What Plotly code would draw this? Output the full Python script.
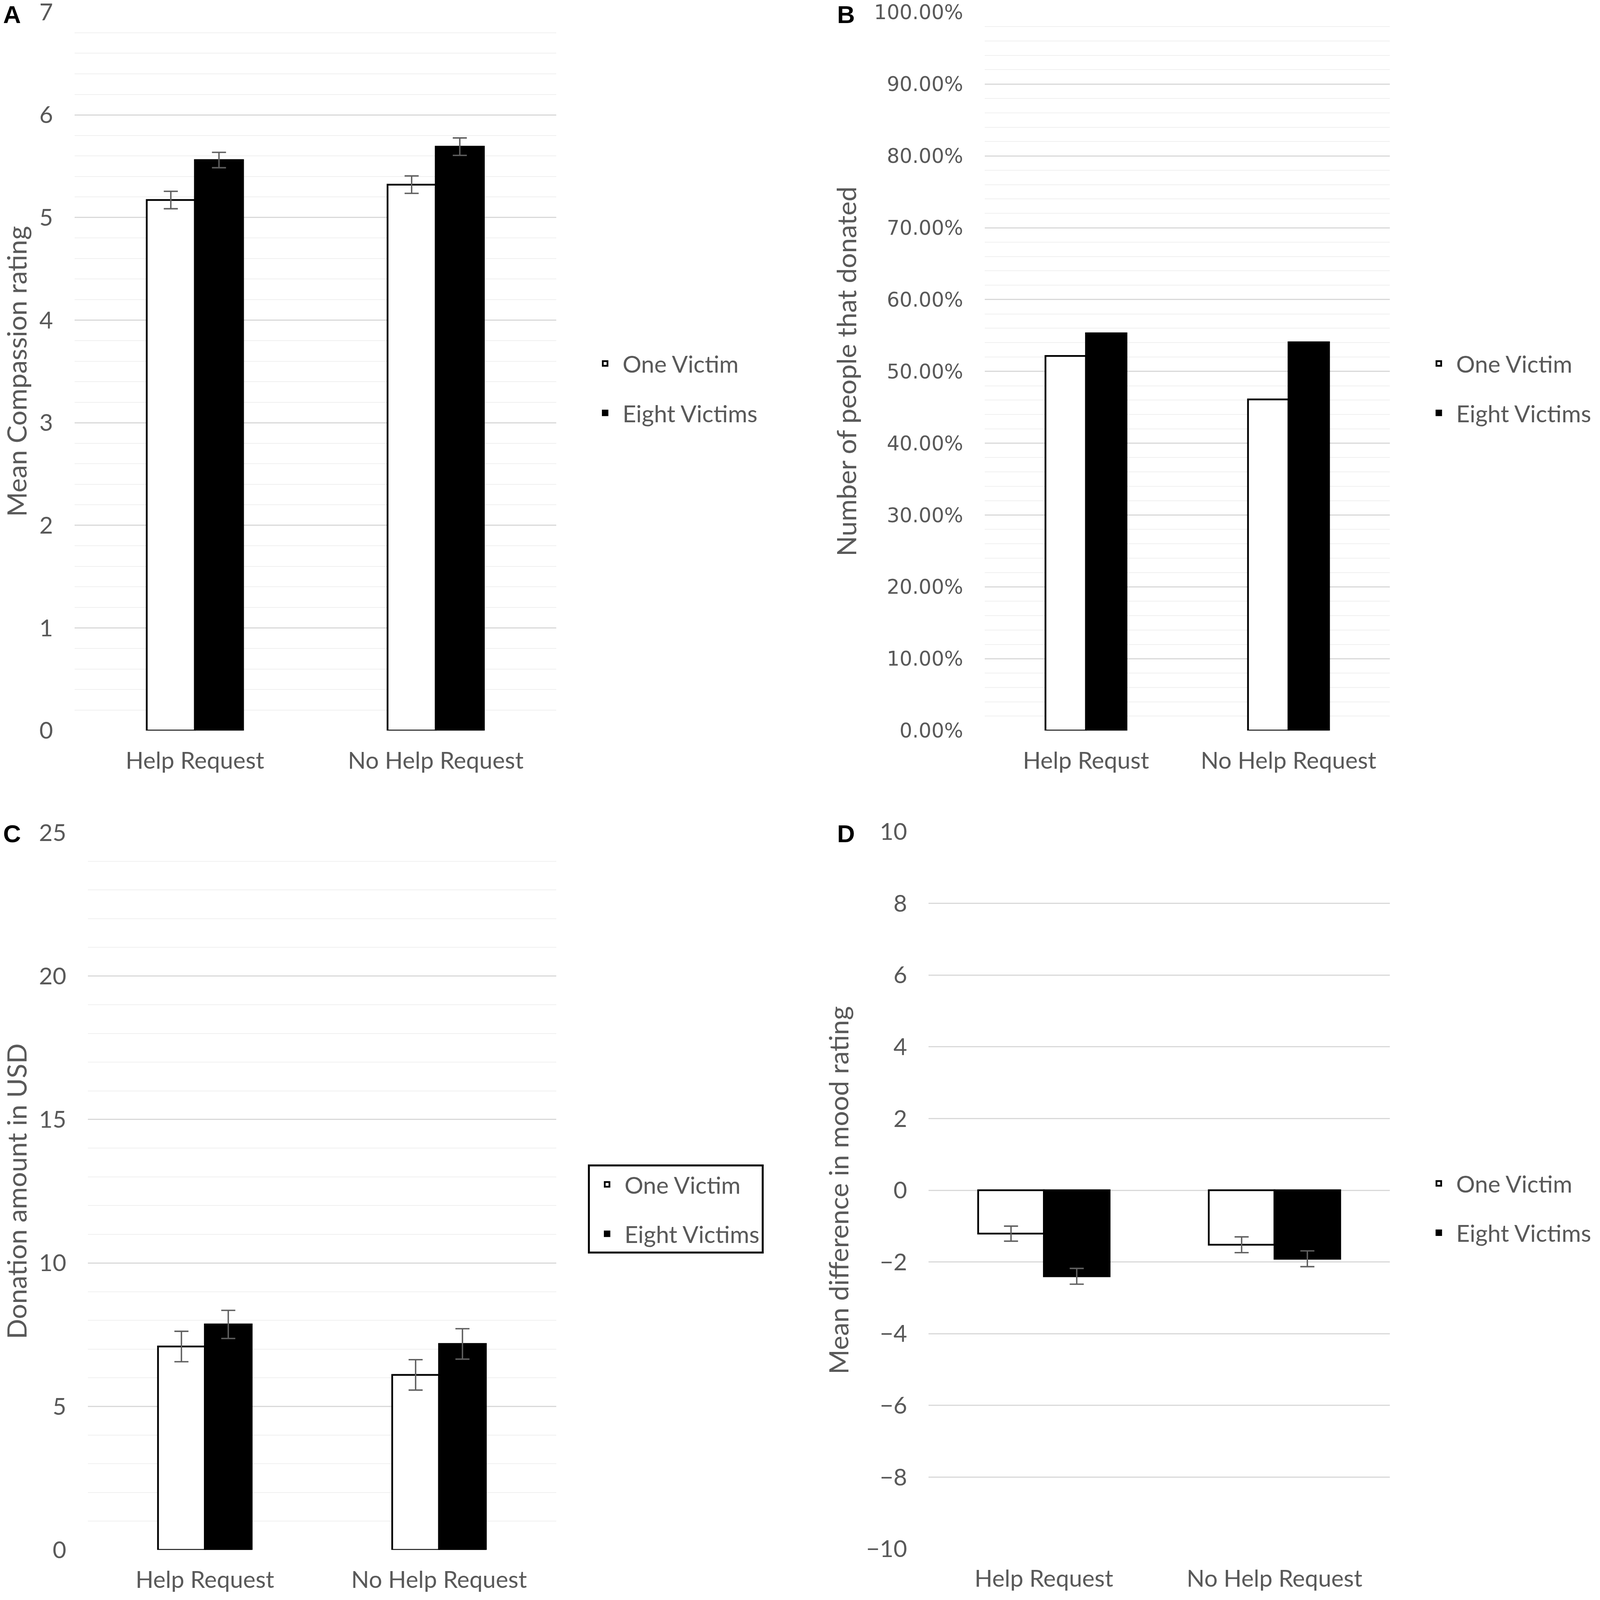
import plotly.graph_objects as go

# ---------------- data ----------------
categories = ["Help Request", "No Help Request"]
categories_b = ["Help Requst", "No Help Request"]
series_names = ["One Victim", "Eight Victims"]

compassion_one = [5.17, 5.32]
compassion_eight = [5.56, 5.69]
compassion_one_err = [0.085, 0.085]
compassion_eight_err = [0.075, 0.085]

donated_one = [0.5215, 0.461]
donated_eight = [0.553, 0.5405]

donation_one = [7.09, 6.10]
donation_eight = [7.86, 7.18]
donation_one_err = [0.53, 0.53]
donation_eight_err = [0.49, 0.53]

mood_one = [-1.21, -1.52]
mood_eight = [-2.40, -1.91]
mood_one_err = [0.21, 0.22]
mood_eight_err = [0.22, 0.22]

# ---------------- styling ----------------
# The page is captured from a ~4096 css-px wide viewport, scaled to 4550 px.
W, H = 4096, 4101
K = W / 4550.0
DW, DH = 1568.0, 1570.0  # reference design units


def fx(x):
    return x / DW


def fy(y):
    return 1 - y / DH


def px(v):
    return v * K


def pxi(v):
    return int(round(v * K))


GREY = "#595959"
FONT = "Lato"
TICK_SIZE = px(67)
TITLE_SIZE = px(76)
LEG_SIZE = px(67)
ERR_COLOR = "#5f5f5f"
MAJOR = "#d9d9d9"
MINOR = "#f0f0f0"

fig = go.Figure()


def add_pair(cats, one, eight, one_err, eight_err, xa, ya, legend, w):
    for name, vals, err, fill in [
        (series_names[0], one, one_err, "white"),
        (series_names[1], eight, eight_err, "black"),
    ]:
        kw = {}
        if err is not None:
            kw["error_y"] = dict(type="data", array=err, visible=True,
                                 color=ERR_COLOR, thickness=px(4), width=px(20))
        fig.add_trace(go.Bar(
            x=cats, y=vals, name=name,
            marker=dict(color=fill, line=dict(color="black", width=px(5))),
            width=w, offset=(-w if fill == "white" else 0),
            xaxis=xa, yaxis=ya, legend=legend,
            legendgroup=legend + name,
            **kw,
        ))


add_pair(categories, compassion_one, compassion_eight,
         compassion_one_err, compassion_eight_err, "x", "y", "legend", 0.2)
add_pair(categories_b, donated_one, donated_eight,
         None, None, "x2", "y2", "legend2", 0.2)
add_pair(categories, donation_one, donation_eight,
         donation_one_err, donation_eight_err, "x3", "y3", "legend3", 0.2)
add_pair(categories, mood_one, mood_eight,
         mood_one_err, mood_eight_err, "x4", "y4", "legend4", 0.285)


def xaxis_cfg(x0, x1, anchor):
    return dict(domain=[fx(x0), fx(x1)], anchor=anchor, showgrid=False,
                showline=False, zeroline=False, ticks="", automargin=False,
                tickfont=dict(family=FONT, size=TICK_SIZE, color=GREY),
                ticklabelstandoff=pxi(40), ticklabeloverflow="allow",
                fixedrange=True)


def yaxis_cfg(y0, y1, anchor, rng, dtick, minor, title, tickfont_family=FONT,
              tickfont_size=TICK_SIZE, tickformat=None):
    d = dict(domain=[fy(y1), fy(y0)], anchor=anchor, range=rng, dtick=dtick,
             tick0=rng[0], automargin=False,
             showgrid=True, gridcolor=MAJOR, gridwidth=px(3), showline=False,
             zeroline=False, ticks="", ticklabeloverflow="allow",
             tickfont=dict(family=tickfont_family, size=tickfont_size, color=GREY),
             ticklabelstandoff=pxi(60), fixedrange=True,
             title=dict(text=title, font=dict(family=FONT, size=TITLE_SIZE, color=GREY),
                        standoff=pxi(24)))
    if minor:
        d["minor"] = dict(dtick=minor, showgrid=True, gridcolor=MINOR,
                          gridwidth=px(2), ticks="")
    if tickformat:
        d["tickformat"] = tickformat
    return d


def legend_cfg(x_left, y_mid, boxed=False):
    d = dict(x=fx(x_left), xanchor="left", y=fy(y_mid), yanchor="middle",
             font=dict(family=FONT, size=LEG_SIZE, color=GREY),
             bgcolor="rgba(0,0,0,0)",
             itemwidth=pxi(88), tracegroupgap=pxi(50), traceorder="grouped")
    if boxed:
        d.update(bordercolor="black", borderwidth=pxi(6))
    else:
        d.update(borderwidth=0)
    return d


fig.update_layout(
    width=W, height=H,
    margin=dict(l=0, r=0, t=0, b=0, pad=0, autoexpand=False),
    paper_bgcolor="white", plot_bgcolor="white",
    showlegend=True,
    xaxis=xaxis_cfg(73, 545, "y"),
    yaxis=yaxis_cfg(12, 716, "x", [0, 7], 1, 0.2, "Mean Compassion rating"),
    xaxis2=xaxis_cfg(965, 1362, "y2"),
    yaxis2=yaxis_cfg(12, 716, "x2", [0, 1], 0.1, 0.02,
                     "Number of people that donated",
                     tickfont_family="DejaVu Sans", tickfont_size=px(57),
                     tickformat=".2%"),
    xaxis3=xaxis_cfg(86, 545, "y3"),
    yaxis3=yaxis_cfg(816, 1519, "x3", [0, 25], 5, 1, "Donation amount in USD"),
    xaxis4=xaxis_cfg(910, 1362, "y4"),
    yaxis4=yaxis_cfg(815, 1518, "x4", [-10, 10], 2, None,
                     "Mean difference in mood rating"),
    legend=legend_cfg(576, 380.5),
    legend2=legend_cfg(1393, 380.5),
    legend3=legend_cfg(576, 1185, boxed=True),
    legend4=legend_cfg(1393, 1184),
)

for label, x, y, anchor in [("A", 12, 0, "top"), ("B", 829, 0, "top"),
                            ("C", 12, 817, "middle"), ("D", 829, 817, "middle")]:
    fig.add_annotation(text="<b>%s</b>" % label, x=fx(x), y=fy(y),
                       xref="paper", yref="paper", showarrow=False,
                       xanchor="center", yanchor=anchor,
                       font=dict(family="Liberation Sans", size=px(70), color="black"))

fig.write_html("out.html", config={"displayModeBar": False},
               post_script="document.body.style.margin='0';")
